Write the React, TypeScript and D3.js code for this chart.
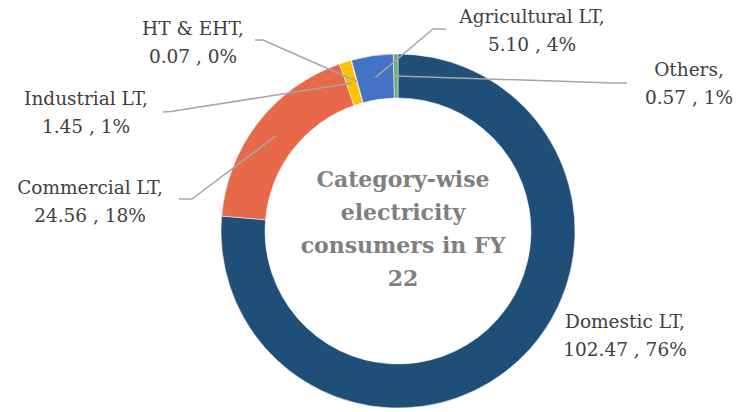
import React from "react";
import * as d3 from "d3";

const categories = ["Domestic LT", "Commercial LT", "Industrial LT", "HT & EHT", "Agricultural LT", "Others"];
const values = [102.47, 24.56, 1.45, 0.07, 5.1, 0.57];
const valueLabels = ["102.47", "24.56", "1.45", "0.07", "5.10", "0.57"];
const percentLabels = ["76%", "18%", "1%", "0%", "4%", "1%"];
const colors = ["#1F4E79", "#E8694A", "#FFC000", "#A5A5A5", "#4472C4", "#70AD7A"];
const titleLines = ["Category-wise", "electricity", "consumers in FY", "22"];

// label layout: text centre x, first baseline y, leader polyline (from label side toward slice)
const labelLayout = [
  { x: 625, y: 328, leader: null as null | [number, number][] },
  { x: 90, y: 194, leader: [[179, 199], [192, 199]] as [number, number][] },
  { x: 86, y: 105, leader: [[163, 112], [171, 111.5]] as [number, number][] },
  { x: 193, y: 35, leader: [[255, 40], [263, 40]] as [number, number][] },
  { x: 532, y: 23, leader: [[446, 29], [433, 29]] as [number, number][] },
  { x: 689, y: 76, leader: [[627, 83], [613, 83]] as [number, number][] },
];

const W = 737;
const H = 412;
const cx = 398;
const cy = 231;
const outerR = 177;
const innerR = 133;

export default function App() {
  const pie = d3
    .pie<number>()
    .sort(null)
    .value((d) => d)
    .startAngle(0)
    .endAngle(2 * Math.PI);
  const arcs = pie(values);
  const arcGen = d3.arc<d3.PieArcDatum<number>>().innerRadius(innerR).outerRadius(outerR);
  const midArc = d3.arc<d3.PieArcDatum<number>>().innerRadius(155).outerRadius(155);
  const line = d3.line();
  const labelFont = "'DejaVu Serif', serif";

  return (
    <svg
      width={W}
      height={H}
      style={{ position: "absolute", left: 0, top: 0, background: "#fff" }}
    >
      <g transform={`translate(${cx},${cy})`}>
        {arcs.map((a, i) => (
          <path key={i} d={arcGen(a) || ""} fill={colors[i]} stroke="#fff" strokeWidth={0.5} />
        ))}
      </g>
      {arcs.map((a, i) => {
        const lay = labelLayout[i];
        if (!lay.leader) return null;
        const c = midArc.centroid(a);
        const pts: [number, number][] = [...lay.leader, [cx + c[0], cy + c[1]]];
        return (
          <path key={"l" + i} d={line(pts) || ""} fill="none" stroke="#A6A6A6" strokeWidth={1.5} />
        );
      })}
      {categories.map((c, i) => {
        const lay = labelLayout[i];
        return (
          <text
            key={"t" + i}
            x={lay.x}
            y={lay.y}
            textAnchor="middle"
            fontFamily={labelFont}
            fontSize={18.5}
            fill="#404040"
          >
            <tspan x={lay.x} y={lay.y}>{c + ","}</tspan>
            <tspan x={lay.x} y={lay.y + 27.5}>{`${valueLabels[i]} , ${percentLabels[i]}`}</tspan>
          </text>
        );
      })}
      <text textAnchor="middle" fontFamily={labelFont} fontWeight="bold" fontSize={22} fill="#7F7F7F">
        {titleLines.map((t, i) => (
          <tspan key={i} x={403} y={187 + i * 33}>
            {t}
          </tspan>
        ))}
      </text>
    </svg>
  );
}
